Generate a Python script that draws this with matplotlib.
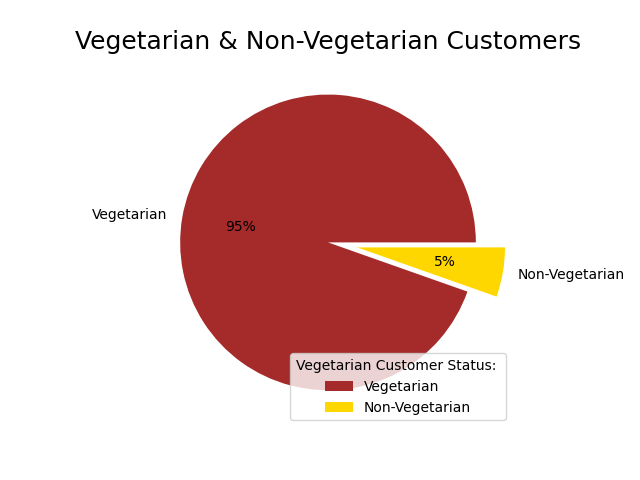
import matplotlib
matplotlib.use("Agg")
import matplotlib.pyplot as plt

labels = ["Vegetarian", "Non-Vegetarian"]
values = [94.6, 5.4]
colors = ["#A52A2A", "#FFD700"]
explode = [0, 0.2]

fig, ax = plt.subplots(figsize=(6.4, 4.8), dpi=100)
ax.pie(values, labels=labels, colors=colors, explode=explode, autopct="%1.0f%%")
ax.set_title("Vegetarian & Non-Vegetarian Customers", fontsize=18)
ax.legend(title="Vegetarian Customer Status: ", loc="lower right")
fig.savefig("out.png")
